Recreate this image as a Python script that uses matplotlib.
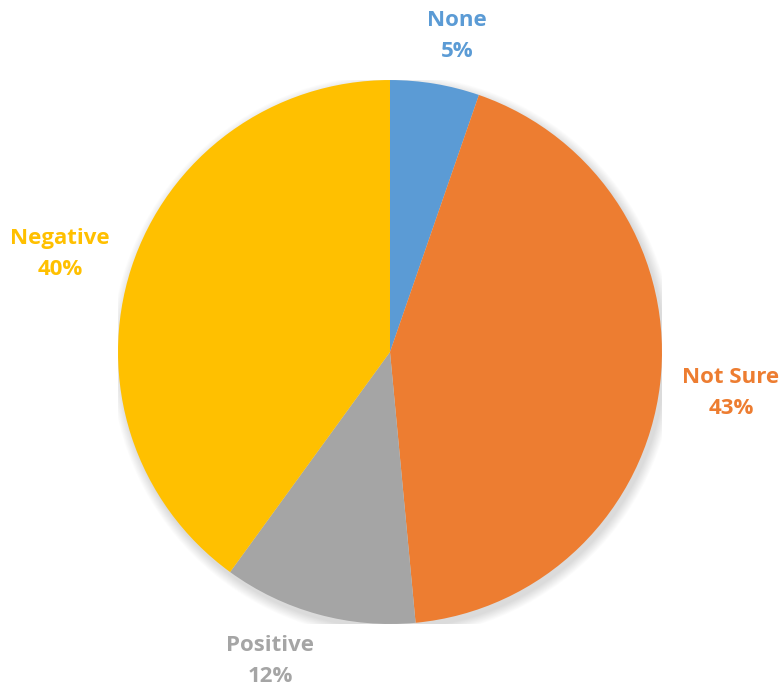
import numpy as np
import matplotlib.pyplot as plt
from matplotlib.patches import Circle

# Dados do gráfico de pizza (valores estimados das fatias; rótulos arredondados)
categorias = ["None", "Not Sure", "Positive", "Negative"]
percentuais = [5.3, 43.2, 11.5, 40.0]
cores = ["#5B9BD5", "#ED7D31", "#A5A5A5", "#FFC000"]

# Distância dos rótulos (em raios) por fatia e pequeno ajuste angular
dist_rotulo = [1.187, 1.263, 1.218, 1.266]
ajuste_ang = [-2.5, 0, -5.9, 1.5]

fig = plt.figure(figsize=(7.81, 6.88), dpi=100)
ax = fig.add_axes([0.1511, 0.093, 0.6965, 0.7907])

# Sombra suave por trás da pizza
for k in range(12, 0, -1):
    ax.add_patch(Circle((0.01, -0.016), 1 + k * 0.003, color="black",
                        alpha=0.013, lw=0, zorder=0))

wedges, _ = ax.pie(percentuais, colors=cores, startangle=90, counterclock=False,
                   radius=1, wedgeprops=dict(edgecolor="none", linewidth=0, zorder=2))

for w, cat, pct, cor, d, da in zip(wedges, categorias, percentuais, cores, dist_rotulo, ajuste_ang):
    ang = np.deg2rad((w.theta1 + w.theta2) / 2 + da)
    x, y = d * np.cos(ang), d * np.sin(ang)
    ax.text(x, y, f"{cat}\n{round(pct + 0.001):.0f}%", ha="center", va="center", color=cor,
            fontsize=16, fontweight="bold", family="Open Sans", linespacing=1.6)

ax.set_xlim(-1, 1)
ax.set_ylim(-1, 1)
ax.set_aspect("equal")
ax.axis("off")

fig.savefig("out.png", dpi=100)
